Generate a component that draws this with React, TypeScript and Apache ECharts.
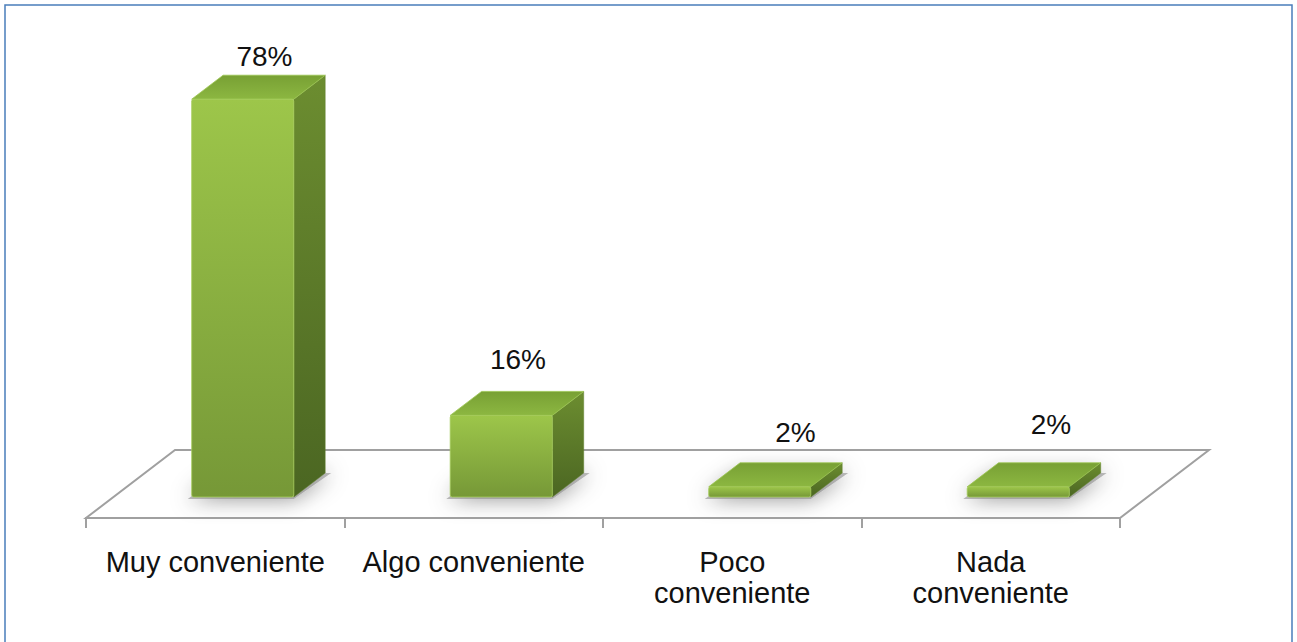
import React, { useEffect, useRef } from "react";
import * as echarts from "echarts";

const categories = ["Muy conveniente", "Algo conveniente", "Poco\nconveniente", "Nada\nconveniente"];
const values = [78, 16, 2, 2];
// label nudges (px) relative to the top-back centre of each box, as in the original layout
const labelShift = [
  [6, -18.5],
  [1, -31.5],
  [20, -30.5],
  [17, -38],
];

const FONT = "'Liberation Sans', Arial, sans-serif";
const FLOOR_DX = 89;
const FLOOR_DY = 68;
const BAR_SET_BACK_Y = 21;
const BAR_SET_BACK_X = 27.5;
const BOX_DX = 31.4;
const BOX_DY = 24;
const BAR_RATIO = 0.395;

export default function App() {
  const ref = useRef<HTMLDivElement>(null);

  useEffect(() => {
    if (!ref.current) return;
    const chart = echarts.init(ref.current, null, { renderer: "svg" });

    const barData = values.map((v, i) => [i, v]);

    const option: any = {
      animation: false,
      backgroundColor: "#ffffff",
      grid: { left: 86, right: 177, top: 8, bottom: 124 },
      xAxis: {
        type: "category",
        data: categories,
        boundaryGap: true,
        axisLine: { show: true, lineStyle: { color: "#a0a0a0", width: 2 } },
        axisTick: { show: true, length: 10, lineStyle: { color: "#a0a0a0", width: 2 } },
        axisLabel: {
          interval: 0,
          margin: 28,
          fontSize: 29,
          lineHeight: 31,
          color: "#111111",
          fontFamily: FONT,
        },
        splitLine: { show: false },
        z: 5,
      },
      yAxis: { type: "value", min: 0, max: 100, show: false },
      graphic: [
        {
          type: "rect",
          shape: { x: 5, y: 5, width: 1287, height: 700 },
          style: { fill: "none", stroke: "#4a7ebb", lineWidth: 1.5 },
          silent: true,
          z: 100,
        },
      ],
      series: [
        {
          type: "custom",
          name: "floor",
          z: 1,
          clip: false,
          data: [[0, 0]],
          encode: { x: 0, y: 1 },
          renderItem: (params: any, api: any) => {
            const band = api.size([1, 0])[0];
            const a = api.coord([0, 0]);
            const b = api.coord([categories.length - 1, 0]);
            const left = a[0] - band / 2;
            const right = b[0] + band / 2;
            const y0 = a[1];
            return {
              type: "polygon",
              shape: {
                points: [
                  [left, y0],
                  [right, y0],
                  [right + FLOOR_DX, y0 - FLOOR_DY],
                  [left + FLOOR_DX, y0 - FLOOR_DY],
                ],
              },
              style: { fill: "#ffffff", stroke: "#a0a0a0", lineWidth: 2 },
            };
          },
        },
        {
          type: "custom",
          name: "bars",
          z: 3,
          clip: false,
          data: barData,
          encode: { x: 0, y: 1 },
          renderItem: (params: any, api: any) => {
            const i = api.value(0);
            const v = api.value(1);
            const c0 = api.coord([i, 0]);
            const c1 = api.coord([i, v]);
            const h = c0[1] - c1[1];
            const band = api.size([1, 0])[0];
            const w = band * BAR_RATIO;
            const fx = c0[0] + BAR_SET_BACK_X - w / 2;
            const by = c0[1] - BAR_SET_BACK_Y;
            const ty = by - h;
            const sh = labelShift[params.dataIndex] || [0, -20];
            return {
              type: "group",
              children: [
                {
                  type: "polygon",
                  shape: {
                    points: [
                      [fx - 4, by + 2],
                      [fx + w, by + 2],
                      [fx + w + BOX_DX + 6, by - BOX_DY],
                      [fx + BOX_DX, by - BOX_DY],
                    ],
                  },
                  style: {
                    fill: "rgba(120,120,120,0.5)",
                    shadowBlur: 22,
                    shadowColor: "rgba(0,0,0,0.85)",
                    shadowOffsetX: 0,
                    shadowOffsetY: 0,
                  },
                },
                {
                  type: "polygon",
                  shape: {
                    points: [
                      [fx + w, ty],
                      [fx + w + BOX_DX, ty - BOX_DY],
                      [fx + w + BOX_DX, by - BOX_DY],
                      [fx + w, by],
                    ],
                  },
                  style: {
                    fill: new echarts.graphic.LinearGradient(0, 0, 0, 1, [
                      { offset: 0, color: "#6c8d30" },
                      { offset: 1, color: "#4b6622" },
                    ]),
                    stroke: "#5f7f2a",
                    lineWidth: 0.5,
                  },
                },
                {
                  type: "polygon",
                  shape: {
                    points: [
                      [fx, ty],
                      [fx + BOX_DX, ty - BOX_DY],
                      [fx + w + BOX_DX, ty - BOX_DY],
                      [fx + w, ty],
                    ],
                  },
                  style: {
                    fill: new echarts.graphic.LinearGradient(0, 0, 0, 1, [
                      { offset: 0, color: "#78a034" },
                      { offset: 1, color: "#8cb741" },
                    ]),
                    stroke: "#9cc550",
                    lineWidth: 0.8,
                  },
                },
                {
                  type: "rect",
                  shape: { x: fx, y: ty, width: w, height: h, r: 2 },
                  style: {
                    fill: new echarts.graphic.LinearGradient(0, 0, 0, 1, [
                      { offset: 0, color: "#9dc64a" },
                      { offset: 1, color: "#769837" },
                    ]),
                    stroke: "#a5cc5a",
                    lineWidth: 0.8,
                  },
                },
                {
                  type: "text",
                  x: fx + (w + BOX_DX) / 2 + sh[0],
                  y: ty - BOX_DY + sh[1],
                  style: {
                    text: v + "%",
                    fontSize: 28,
                    fontFamily: FONT,
                    fill: "#111111",
                    align: "center",
                    verticalAlign: "middle",
                  },
                },
              ],
            };
          },
        },
      ],
    };

    chart.setOption(option);
    return () => {
      chart.dispose();
    };
  }, []);

  return (
    <div
      ref={ref}
      style={{ position: "absolute", left: 0, top: 0, width: 1297, height: 642 }}
    />
  );
}
